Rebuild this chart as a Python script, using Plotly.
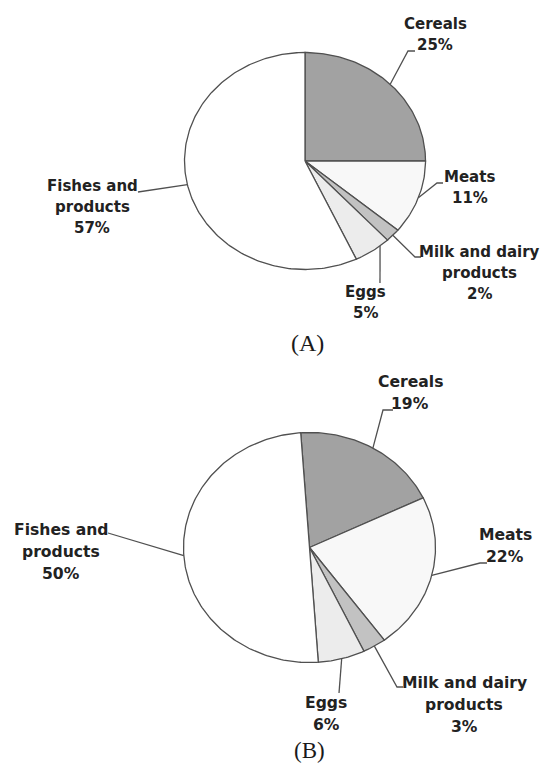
import math
import plotly.graph_objects as go

# ---------------- data ----------------
categories = ["Cereals", "Meats", "Milk and dairy products", "Eggs", "Fishes and products"]
label_lines = [["Cereals"], ["Meats"], ["Milk and dairy", "products"], ["Eggs"], ["Fishes and", "products"]]
values_a = [25, 11, 2, 5, 57]
values_b = [19, 22, 3, 6, 50]
panel_titles = ["(A)", "(B)"]

# ---------------- styles / layout (pixels of the 541x764 page) ----------------
W, H = 541, 764
slice_colors = ["#a2a2a2", "#f8f8f8", "#c2c2c2", "#ececec", "#ffffff"]
outline = "#505050"
text_color = "#222222"
PAD = 1.03

# pie geometry: center x, center y, radius x, radius y, start angle (deg)
pie_geom = [(305, 161, 120.5, 108.5, 0), (309.5, 547.5, 126, 115, -4)]
font_sizes = [15, 15.6]
line_gaps = [21, 22]
# label block: center x, first line y
label_pos = [
    [(435, 24), (469.5, 177), (479, 252), (365, 292), (92, 186)],
    [(410, 382), (505, 535), (464, 683), (326, 703), (61, 530)],
]
# where the leader leaves the slice (fraction of the slice's angle)
anchor_frac = [[0.5, 0.5, 0.5, 0.26, 0.5], [0.5, 0.5, 0.5, 0.5, 0.5]]
# leader elbows and tail ends
leader_pts = [
    [((408, 51), (415, 51)), ((437, 183), (443, 183)), ((415, 257), (421, 257)),
     ((380, 283), (380, 283)), ((138, 192), (138, 192))],
    [((383, 410), (393, 410)), ((480, 563), (487, 563)), ((397, 687), (403, 687)),
     ((339, 693), (339, 693)), ((108, 533), (108, 533))],
]
title_pos = [(307.5, 343), (309, 750)]
title_sizes = [24, 23]


def px(x):
    return x / W


def py(y):
    return 1 - y / H


fig = go.Figure()
shapes = []
annotations = []
layout_axes = {}

for k, vals in enumerate([values_a, values_b]):
    cx, cy, rx, ry, rot = pie_geom[k]
    xa = "x" if k == 0 else f"x{k + 1}"
    ya = "y" if k == 0 else f"y{k + 1}"
    xname = "xaxis" if k == 0 else f"xaxis{k + 1}"
    yname = "yaxis" if k == 0 else f"yaxis{k + 1}"
    axis_style = dict(range=[-PAD, PAD], visible=False, showgrid=False, zeroline=False,
                      fixedrange=True)
    layout_axes[xname] = dict(domain=[px(cx - rx * PAD), px(cx + rx * PAD)], anchor=ya, **axis_style)
    layout_axes[yname] = dict(domain=[py(cy + ry * PAD), py(cy - ry * PAD)], anchor=xa, **axis_style)

    total = sum(vals)
    cum = 0
    for i, v in enumerate(vals):
        t0 = rot + 360 * cum / total
        t1 = rot + 360 * (cum + v) / total
        cum += v
        n = max(2, int(abs(t1 - t0)) + 2)
        ts = [t0 + (t1 - t0) * j / (n - 1) for j in range(n)]
        xs = [0] + [math.sin(math.radians(t)) for t in ts] + [0]
        ys = [0] + [math.cos(math.radians(t)) for t in ts] + [0]
        fig.add_trace(go.Scatter(
            x=xs, y=ys, xaxis=xa, yaxis=ya, mode="lines", fill="toself",
            fillcolor=slice_colors[i], line=dict(color=outline, width=1.3),
            name=categories[i], showlegend=False, hoveron="fills",
            hoverinfo="name",
        ))
        # leader line
        ta = math.radians(t0 + (t1 - t0) * anchor_frac[k][i])
        sx, sy = cx + rx * math.sin(ta), cy - ry * math.cos(ta)
        (ex, ey), (tx, ty) = leader_pts[k][i]
        path = f"M {px(sx)} {py(sy)} L {px(ex)} {py(ey)} L {px(tx)} {py(ty)}"
        shapes.append(dict(type="path", xref="paper", yref="paper", path=path,
                           line=dict(color=outline, width=1.3)))
        # label
        pct = round(100 * v / total)
        lines = label_lines[i] + [f"{pct}%"]
        lx, ly = label_pos[k][i]
        for j, s in enumerate(lines):
            annotations.append(dict(
                x=px(lx), y=py(ly + j * line_gaps[k]), xref="paper", yref="paper",
                text=f"<b>{s}</b>", showarrow=False, xanchor="center", yanchor="middle",
                font=dict(family="DejaVu Sans", size=font_sizes[k], color=text_color),
            ))
    tx_, ty_ = title_pos[k]
    annotations.append(dict(
        x=px(tx_), y=py(ty_), xref="paper", yref="paper", text=panel_titles[k],
        showarrow=False, xanchor="center", yanchor="middle",
        font=dict(family="Liberation Serif", size=title_sizes[k], color="#1a1a1a"),
    ))

fig.update_layout(
    width=W, height=H,
    margin=dict(l=0, r=0, t=0, b=0),
    paper_bgcolor="white", plot_bgcolor="rgba(0,0,0,0)",
    shapes=shapes, annotations=annotations,
    **layout_axes,
)

fig.write_html(
    "out.html",
    config={"displayModeBar": False},
    post_script="document.body.style.margin='0';document.body.style.overflow='hidden';",
)
